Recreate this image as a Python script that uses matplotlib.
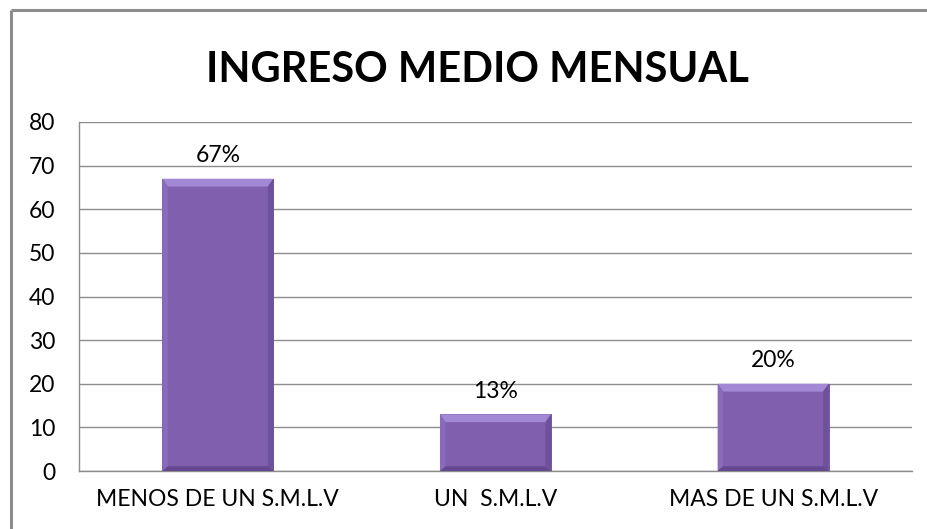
import matplotlib
matplotlib.use("Agg")
import matplotlib.pyplot as plt
from matplotlib.patches import Polygon
from matplotlib.lines import Line2D

categories = ["MENOS DE UN S.M.L.V", "UN  S.M.L.V", "MAS DE UN S.M.L.V"]
values = [67, 13, 20]
labels = ["67%", "13%", "20%"]
yticks = [0, 10, 20, 30, 40, 50, 60, 70, 80]
title = "INGRESO MEDIO MENSUAL"

plt.rcParams['font.family'] = ['Lato', 'DejaVu Sans']

fig = plt.figure(figsize=(9.27, 5.29), dpi=100)
ax = fig.add_axes([79/927, 1-471/529, (912-79)/927, (471-122)/529])

# outer frame (only left/top visible)
fx, fy = 11/927, 1 - 10/529
fig.add_artist(Line2D([fx, fx], [0.0, fy], transform=fig.transFigure, color="#8c8c8c",
                      linewidth=2.2, solid_capstyle="butt"))
fig.add_artist(Line2D([fx, 1.0], [fy, fy], transform=fig.transFigure, color="#8c8c8c",
                      linewidth=2.2, solid_capstyle="butt"))

x = list(range(len(categories)))
width = 0.4
bars = ax.bar(x, values, width=width, color="#7f5fae", edgecolor="#6a4d96", linewidth=0.6, zorder=3)

# bevel effect, derived from each bar's geometry
for b in bars:
    x0, w, h = b.get_x(), b.get_width(), b.get_height()
    bw = w * 0.05
    bh = min(1.8, h * 0.18)
    top = Polygon([(x0, h), (x0 + w, h), (x0 + w - bw, h - bh), (x0 + bw, h - bh)],
                  closed=True, facecolor="#a388d6", edgecolor="none", zorder=4)
    left = Polygon([(x0, h), (x0 + bw, h - bh), (x0 + bw, bh * 0.6), (x0, 0)],
                   closed=True, facecolor="#8a6bbb", edgecolor="none", zorder=4)
    right = Polygon([(x0 + w, h), (x0 + w - bw, h - bh), (x0 + w - bw, bh * 0.6), (x0 + w, 0)],
                    closed=True, facecolor="#6e519b", edgecolor="none", zorder=4)
    bottom = Polygon([(x0, 0), (x0 + w, 0), (x0 + w - bw, bh * 0.6), (x0 + bw, bh * 0.6)],
                     closed=True, facecolor="#654890", edgecolor="none", zorder=4)
    for p in (top, left, right, bottom):
        ax.add_patch(p)

for xi, v, lab in zip(x, values, labels):
    ax.annotate(lab, (xi, v), xytext=(0, 9), textcoords="offset points",
                ha="center", va="bottom", fontsize=16.5, color="#000000")

ax.set_xlim(-0.5, len(categories) - 0.5)
ax.set_ylim(0, 80)
ax.set_yticks(yticks)
ax.set_yticklabels([str(t) for t in yticks], fontsize=16.5)
ax.set_xticks(x)
ax.set_xticklabels(categories, fontsize=16.5)
ax.tick_params(axis="x", length=0, pad=13)
ax.tick_params(axis="y", length=0, pad=17)
ax.grid(axis="y", color="#8c8c8c", linewidth=1.0, zorder=0)
for s in ("top", "right"):
    ax.spines[s].set_visible(False)
for s in ("left", "bottom"):
    ax.spines[s].set_color("#8c8c8c")
    ax.spines[s].set_linewidth(1.0)

fig.text(477/927, 1 - 70/529, title, ha="center", va="center", fontsize=30, fontweight="bold")

fig.savefig("out.png", dpi=100, facecolor="white")
